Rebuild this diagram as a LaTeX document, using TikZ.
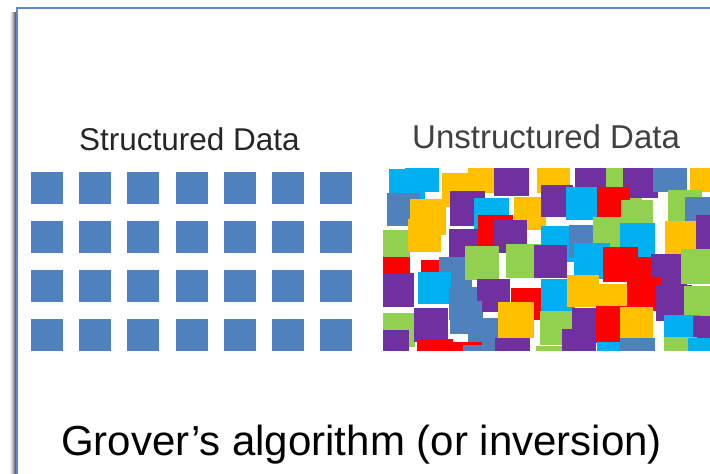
\documentclass[tikz,border=0pt]{standalone}
\usepackage{fontspec}
\setmainfont{Liberation Sans}
\usepackage{tikz}
\usetikzlibrary{positioning}

\definecolor{frameblue}{HTML}{5B8CD0}
\definecolor{cellblue}{HTML}{4F81BD}
\definecolor{cRed}{HTML}{FF0000}
\definecolor{cGreen}{HTML}{92D050}
\definecolor{cOrange}{HTML}{FFC000}
\definecolor{cBlue}{HTML}{4F81BD}
\definecolor{cCyan}{HTML}{00B0F0}
\definecolor{cPurple}{HTML}{7030A0}

\pgfmathdeclarerandomlist{mixcolors}{{cRed}{cGreen}{cOrange}{cBlue}{cCyan}{cPurple}}

\begin{document}
\begin{tikzpicture}[
    x=1pt, y=-1pt,
    cell/.style={fill=cellblue, minimum size=32pt, inner sep=0pt, outer sep=0pt, anchor=north west},
    title/.style={anchor=base west, inner sep=0pt, text=black!85},
    caption/.style={anchor=base west, inner sep=0pt, font=\fontsize{42}{48}\selectfont}
]
\useasboundingbox (0,0) rectangle (710,474);

% Slide frame with soft shadow on the left
\foreach \k/\op in {10/0.06, 11/0.12, 12/0.22, 13/0.34, 14/0.48, 15/0.6}
  \fill[black, opacity=\op] (\k,12) rectangle (\k+1,474);
\draw[frameblue, line width=2pt] (17,474) -- (17,8) -- (712,8);

% Titles
\node[title, font=\fontsize{31.5}{36}\selectfont] (structured) at (79,150) {Structured Data};
\node[title, font=\fontsize{33}{38}\selectfont, text=black!75] (unstructured) at (412,148) {Unstructured Data};

% Structured data: regular 7x4 grid
\foreach \i in {0,...,6}
  \foreach \j in {0,...,3}
    \node[cell] (s-\i-\j) at (31+48.2*\i, 172+49*\j) {};

% Unstructured data: jittered pile of coloured squares
\pgfmathsetseed{4217}
\begin{scope}
  \clip (383,168) rectangle (712,350);
  \foreach \j in {0,...,6}
    \foreach \i in {0,...,10} {
      \pgfmathsetmacro{\px}{380+31*\i+rand*10}
      \pgfmathsetmacro{\py}{164+29*\j+rand*9}
      \pgfmathsetmacro{\sz}{32+rnd*4}
      \pgfmathrandomitem{\col}{mixcolors}
      \fill[\col] (\px,\py) rectangle ++(\sz,\sz);
    }
\end{scope}

% Caption
\node[caption] (grover) at (61,455) {Grover’s algorithm (or inversion)};

\end{tikzpicture}
\end{document}
